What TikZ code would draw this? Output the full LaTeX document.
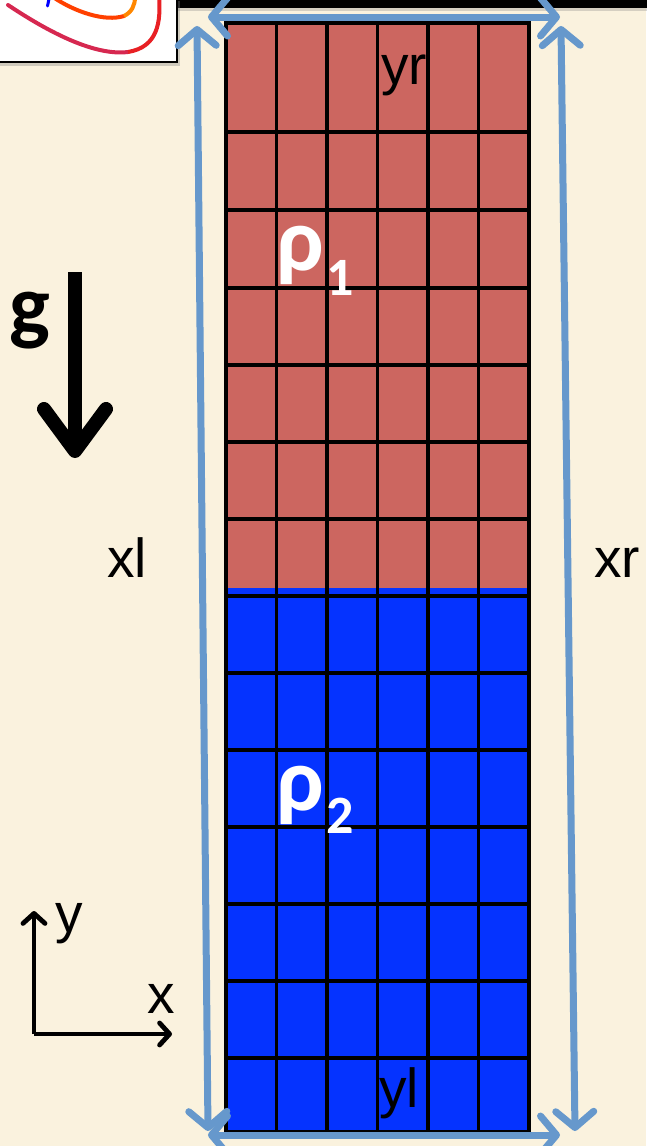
\documentclass[tikz,border=0pt]{standalone}
\usepackage{fontspec}
\setmainfont{Liberation Sans}
\newfontfamily\calfont{Carlito}
\usetikzlibrary{arrows.meta,shadows}
\definecolor{parch}{RGB}{250,242,222}
\definecolor{redc}{RGB}{204,102,96}
\definecolor{bluec}{RGB}{5,51,255}
\definecolor{arrowblue}{RGB}{102,152,204}
\definecolor{crimsonc}{RGB}{214,40,80}
\definecolor{redline}{RGB}{232,32,36}
\definecolor{orangered}{RGB}{255,64,0}
\definecolor{orangec}{RGB}{255,135,0}
\tikzset{
  gridline/.style={black, line width=3.3pt},
  dimarrow/.style={arrowblue, line width=7pt, line cap=round,
    {Straight Barb[length=16pt,width=38pt,line cap=round,line join=round]}-{Straight Barb[length=16pt,width=38pt,line cap=round,line join=round]}},
  axisarrow/.style={black, line width=4.8pt, -{Straight Barb[length=10pt,width=22pt,line cap=round,line join=round]}},
  garrow/.style={black, line width=14pt, -{Straight Barb[length=42pt,width=62pt,line cap=round,line join=round]}},
  lbl/.style={anchor=base west, inner sep=0pt, font=\fontsize{55}{55}\selectfont},
  rholbl/.style={anchor=base west, inner sep=0pt, text=white, font=\calfont\bfseries\fontsize{90}{90}\selectfont},
  sublbl/.style={anchor=base west, inner sep=0pt, text=white, font=\calfont\bfseries\fontsize{54}{54}\selectfont},
}
\begin{document}
\begin{tikzpicture}[x=1pt,y=-1pt]
\useasboundingbox (0,0) rectangle (646,1146);
\fill[parch] (0,0) rectangle (646,1146);

% top black bar
\fill[black, drop shadow={shadow xshift=0pt, shadow yshift=-3pt, opacity=0.3}] (177,-2) rectangle (648,7.5);

% logo box
\draw[fill=white, line width=2.5pt, drop shadow={shadow xshift=3pt, shadow yshift=-4pt, opacity=0.35}] (-3,-3) rectangle (177,62);
\begin{scope}
\clip (-2,-2) rectangle (176,61);
\draw[crimsonc, line width=4pt, line cap=round] (8,5) .. controls (50,33) and (95,56) .. (128,52);
\draw[redline, line width=4pt] (128,52) .. controls (158,47) and (161,22) .. (159,-4);
\draw[orangered, line width=4pt, line cap=round] (53,-3) .. controls (75,12) and (105,22) .. (124,16);
\draw[orangec, line width=4pt] (124,16) .. controls (132,12) and (135,5) .. (135,-3);
\draw[blue, line width=3pt, line cap=round] (49,-1) -- (47.5,6);
\end{scope}

% grid
\fill[redc] (226,23) rectangle (529,588);
\fill[bluec] (226,588) rectangle (529,1132);
\foreach \yy in {132,210,288,365,442,519,596,673,750,827,904,981,1058}
  \draw[gridline] (226,\yy) -- (529,\yy);
\foreach \xx in {276.5,327,377.5,428,478.5}
  \draw[gridline] (\xx,23) -- (\xx,1132);
\draw[gridline] (226,23) rectangle (529,1132);

% dimension arrows
\coordinate (tl) at (208,17);
\coordinate (tr) at (560,17);
\coordinate (bl) at (208,1135);
\coordinate (br) at (560,1135);
\coordinate (lt) at (197,26);
\coordinate (lb) at (208,1131);
\coordinate (rt) at (561,26);
\coordinate (rb) at (575,1131);
\draw[dimarrow] (tl) -- (tr);
\draw[dimarrow] (bl) -- (br);
\draw[dimarrow] (lt) -- (lb);
\draw[dimarrow] (rt) -- (rb);

% labels
\node[lbl] (yr) at (381,84) {yr};
\node[lbl] (yl) at (379,1107) {yl};
\node[lbl] (xl) at (107,577) {xl};
\node[lbl] (xr) at (594,577) {xr};

% densities
\node[rholbl] (rho1) at (276,270) {ρ};
\node[sublbl] (sub1) at (326,295) {1};
\node[rholbl] (rho2) at (276,810) {ρ};
\node[sublbl] (sub2) at (326,833) {2};

% gravity
\node[anchor=base west, inner sep=0pt, font=\calfont\bfseries\fontsize{86}{86}\selectfont] (g) at (9,334) {g};
\coordinate (gtop) at (75,272);
\coordinate (gbot) at (75,458);
\draw[garrow] (gtop) -- (gbot);

% axes
\coordinate (origin) at (34,1034);
\coordinate (ytip) at (34,911);
\coordinate (xtip) at (172,1034);
\draw[axisarrow] (origin) -- (ytip);
\draw[axisarrow] (origin) -- (xtip);
\node[lbl] (ylab) at (55,932) {y};
\node[lbl] (xlab) at (147,1013) {x};
\end{tikzpicture}
\end{document}
